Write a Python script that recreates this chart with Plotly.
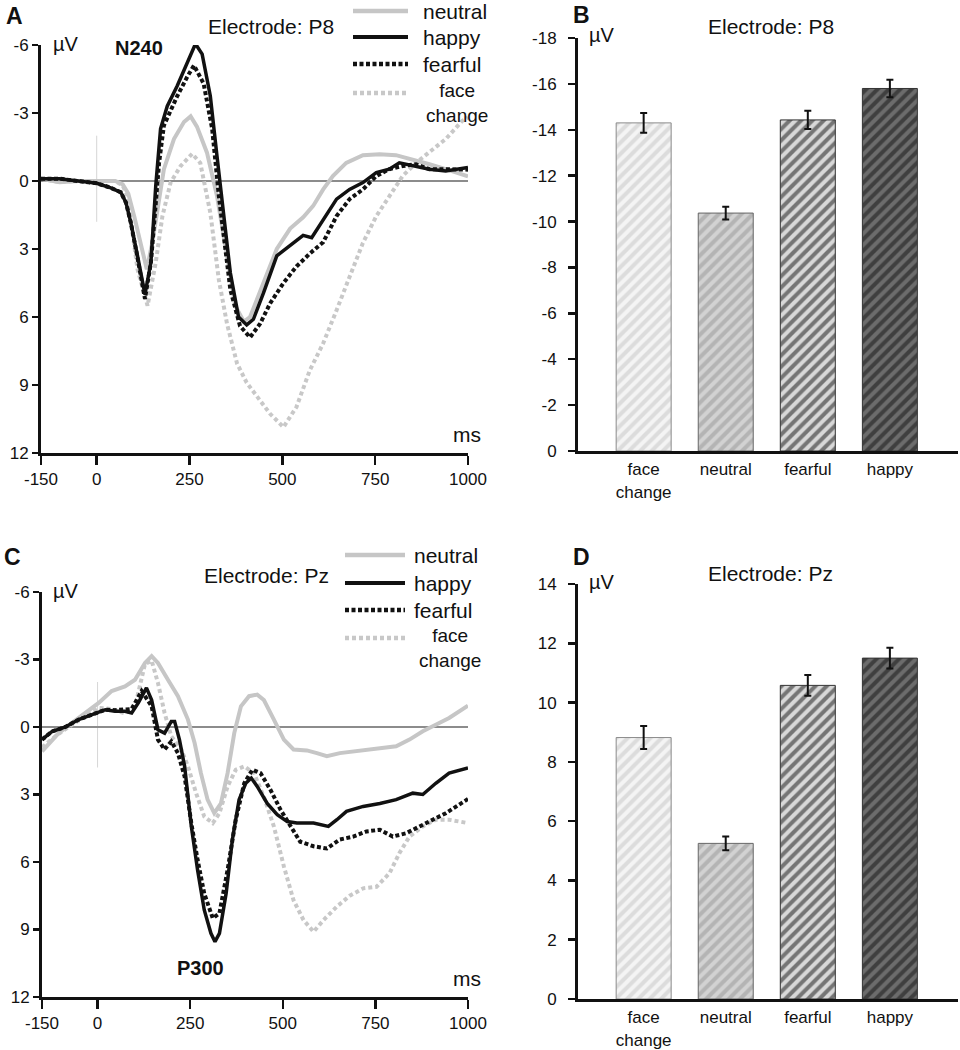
import plotly.graph_objects as go

# ---------------- data ----------------
series_names = ["neutral", "happy", "fearful", "face change"]

# Panel A (P8 waveforms)
a_neutral_t = [-150,-100,-50,0,50,70,85,101,119,135,150,168,181,208,235,253,270,297,324,351,373,396,413,449,485,521,556,583,610,636,672,717,762,806,851,896,940,1000]
a_neutral_v = [-0.1,0.05,0.0,0.0,0.0,0.15,0.55,1.55,2.9,3.9,2.7,0.66,-0.52,-1.85,-2.6,-2.85,-2.4,-1.25,0.66,3.3,5.5,6.2,6.0,4.5,3.0,2.1,1.6,1.1,0.37,-0.22,-0.8,-1.14,-1.18,-1.14,-0.96,-0.74,-0.52,-0.2]
a_happy_t = [-150,-100,-50,0,38,65,79,92,110,130,146,159,172,190,217,244,266,284,306,324,342,360,382,404,422,449,485,530,556,579,610,646,681,717,753,788,815,851,896,940,1000]
a_happy_v = [-0.1,-0.1,0.0,0.1,0.3,0.5,0.96,1.85,3.3,5.0,3.6,0.22,-2.3,-3.3,-4.2,-5.2,-6.05,-5.6,-3.75,-1.1,1.55,4.06,6.0,6.35,6.1,4.95,3.3,2.7,2.4,2.5,1.7,0.8,0.37,0.07,-0.37,-0.52,-0.8,-0.66,-0.52,-0.44,-0.6]
a_fearful_t = [-150,-100,-50,0,38,65,79,92,110,130,146,159,168,181,217,244,262,288,311,329,360,386,413,440,467,503,538,574,610,646,681,717,753,788,824,860,896,949,1000]
a_fearful_v = [-0.1,-0.1,0.0,0.1,0.3,0.5,0.96,1.85,3.4,5.2,3.6,0.96,-0.8,-2.45,-3.75,-4.6,-5.1,-4.3,-2.3,0.66,4.8,6.4,6.9,6.3,5.4,4.5,3.77,3.2,2.7,1.55,0.8,0.37,-0.22,-0.52,-0.66,-0.74,-0.52,-0.52,-0.5]
a_face_t = [-150,-100,-50,0,50,70,83,110,137,159,177,199,226,257,279,306,329,351,378,404,431,467,503,538,574,610,646,681,717,753,788,824,860,896,940,985,1000]
a_face_v = [-0.1,0.05,0.0,0.0,0.0,0.2,0.66,3.9,5.5,3.6,1.55,0.07,-0.66,-1.2,-0.8,1.4,4.36,6.3,8.05,8.9,9.5,10.27,10.86,9.97,8.35,7.16,5.7,4.2,2.73,1.55,0.66,-0.22,-0.8,-1.25,-1.85,-2.66,-2.8]

# Panel C (Pz waveforms)
c_neutral_t = [-150,-105,-69,-33,3,38,74,101,128,146,163,190,217,244,262,279,297,315,333,351,369,387,409,431,449,476,503,529,565,592,619,654,690,726,771,806,842,878,913,949,1000]
c_neutral_v = [1.08,0.27,-0.18,-0.62,-1.07,-1.6,-1.8,-2.1,-2.85,-3.15,-2.85,-2.1,-1.37,-0.33,0.71,2.05,3.23,3.83,3.4,2.05,0.27,-0.92,-1.37,-1.44,-1.2,-0.33,0.56,1.0,1.04,1.16,1.3,1.16,1.08,1.0,0.93,0.86,0.56,0.19,-0.1,-0.4,-0.95]
c_happy_t = [-150,-123,-87,-51,-15,21,47,74,92,110,132,146,163,181,199,208,221,235,253,270,288,306,317,329,347,364,382,400,415,431,458,485,512,538,583,623,646,672,717,762,806,851,878,913,949,1000]
c_happy_v = [0.56,0.2,0.0,-0.33,-0.55,-0.77,-0.7,-0.7,-0.62,-1.07,-1.74,-1.2,0.12,0.27,-0.25,-0.25,0.56,1.75,4.4,6.35,8.13,9.17,9.54,9.17,7.4,5.0,3.23,2.5,2.27,2.64,3.4,3.9,4.2,4.27,4.27,4.42,4.12,3.75,3.53,3.4,3.23,2.94,3.0,2.5,2.05,1.82]
c_fearful_t = [-150,-123,-87,-51,-15,21,47,74,92,119,146,163,181,199,217,235,253,270,288,311,329,351,373,396,418,440,467,494,521,547,583,619,654,690,726,762,797,833,869,904,940,1000]
c_fearful_v = [0.56,0.2,0.0,-0.33,-0.55,-0.77,-0.75,-0.8,-0.8,-1.6,-0.92,0.56,1.0,0.64,1.16,2.2,4.27,5.9,7.4,8.5,8.28,6.35,4.12,2.5,1.9,2.05,2.8,3.68,4.42,5.1,5.3,5.4,5.0,4.87,4.64,4.57,4.87,4.72,4.42,4.12,3.83,3.2]
c_face_t = [-150,-105,-69,-33,3,38,74,101,128,146,163,181,199,226,244,266,288,311,329,351,373,396,422,449,476,503,529,556,583,610,646,681,717,753,788,815,842,878,913,949,1000]
c_face_v = [0.9,0.3,-0.1,-0.5,-0.85,-0.8,-0.6,-0.9,-2.8,-2.95,-1.96,-0.62,0.41,1.0,1.75,2.94,3.98,4.27,3.83,2.64,1.9,1.75,2.05,3.1,4.42,6.2,7.7,8.58,9.1,8.58,7.98,7.5,7.17,7.1,6.5,5.6,4.87,4.42,4.12,4.12,4.27]

# Bar panels
bar_categories = ["face change", "neutral", "fearful", "happy"]
bar_ticktext = ["face<br>change", "neutral", "fearful", "happy"]
b_values = [-14.3, -10.37, -14.43, -15.8]
b_errors = [0.43, 0.28, 0.4, 0.38]
d_values = [8.82, 5.25, 10.58, 11.5]
d_errors = [0.39, 0.23, 0.35, 0.35]

wave_x_ticks = [-150, 0, 250, 500, 750, 1000]
wave_x_ticktext = ["-150", "0", "250", "500", "750", "1000"]
wave_y_ticks = [-6, -3, 0, 3, 6, 9, 12]
wave_y_ticktext = ["-6", "-3", "0", "3", "6", "9", "12"]
b_y_ticks = [0, -2, -4, -6, -8, -10, -12, -14, -16, -18]
b_y_ticktext = ["0", "-2", "-4", "-6", "-8", "-10", "-12", "-14", "-16", "-18"]
d_y_ticks = [0, 2, 4, 6, 8, 10, 12, 14]
d_y_ticktext = ["0", "2", "4", "6", "8", "10", "12", "14"]

# ---------------- styles ----------------
W, H = 960, 1050
FONT = "Liberation Sans, Arial, Helvetica, sans-serif"
line_styles = {
    "neutral": dict(color="#c6c6c6", width=4, dash="solid"),
    "happy": dict(color="#111111", width=3.5, dash="solid"),
    "fearful": dict(color="#111111", width=4, dash="4px,2.5px"),
    "face change": dict(color="#c8c8c8", width=4, dash="4px,3px"),
}
bar_styles = [
    dict(bg="#f4f4f4", fg="#c4c4c4", sol=0.5, outline="#8a8a8a"),
    dict(bg="#d2d2d2", fg="#969696", sol=0.5, outline="#666666"),
    dict(bg="#d8d8d8", fg="#111111", sol=0.5, outline="#333333"),
    dict(bg="#6c6c6c", fg="#111111", sol=0.5, outline="#333333"),
]


def px(x):
    return x / W


def py(y):
    return 1 - y / H


fig = go.Figure()

wave_sets = {
    "A": {"neutral": (a_neutral_t, a_neutral_v), "happy": (a_happy_t, a_happy_v),
          "fearful": (a_fearful_t, a_fearful_v), "face change": (a_face_t, a_face_v)},
    "C": {"neutral": (c_neutral_t, c_neutral_v), "happy": (c_happy_t, c_happy_v),
          "fearful": (c_fearful_t, c_fearful_v), "face change": (c_face_t, c_face_v)},
}
axis_map = {"A": ("x", "y"), "C": ("x3", "y3")}
for panel, sets in wave_sets.items():
    xa, ya = axis_map[panel]
    for name in ["face change", "neutral", "fearful", "happy"]:
        t, v = sets[name]
        fig.add_trace(go.Scatter(x=t, y=v, mode="lines", name=name, showlegend=False,
                                 line=dict(**line_styles[name]), xaxis=xa, yaxis=ya,
                                 hoverinfo="skip"))

for vals, errs, xa, ya in [(b_values, b_errors, "x2", "y2"), (d_values, d_errors, "x4", "y4")]:
    for i, cat in enumerate(bar_categories):
        st = bar_styles[i]
        fig.add_trace(go.Bar(
            x=[cat], y=[vals[i]], width=0.67, xaxis=xa, yaxis=ya, showlegend=False,
            marker=dict(color=st["bg"], line=dict(color=st["outline"], width=1),
                        pattern=dict(shape="/", fgcolor=st["fg"], bgcolor=st["bg"],
                                     size=8, solidity=st["sol"], fillmode="overlay")),
            error_y=dict(type="data", array=[errs[i]], visible=True, color="#111111",
                         thickness=2, width=3.5),
            hoverinfo="skip",
        ))

tickfont = dict(family=FONT, size=17, color="#111111")
common_axis = dict(showline=True, linecolor="#111111", linewidth=3, showgrid=False,
                   zeroline=False, tickfont=tickfont, tickcolor="#111111", automargin=False,
                   mirror=False, fixedrange=True)

wave_x = dict(common_axis, range=[-150, 1000], tickvals=wave_x_ticks, ticktext=wave_x_ticktext,
              ticks="outside", ticklen=9, tickwidth=2.5)
wave_y = dict(common_axis, range=[12, -6], tickvals=wave_y_ticks, ticktext=wave_y_ticktext,
              ticks="outside", ticklen=6, tickwidth=2.5, zeroline=True,
              zerolinecolor="#8c8c8c", zerolinewidth=1.5)
bar_x = dict(common_axis, type="category", range=[-0.8, 3.83], tickvals=bar_categories,
             ticktext=bar_ticktext, ticks="", ticklabelstandoff=1,
             tickfont=dict(family=FONT, size=17, color="#111111"))
bar_y = dict(common_axis, ticks="outside", ticklen=7, tickwidth=2.5, ticklabelstandoff=8)

fig.update_layout(
    template="none",
    width=W, height=H, autosize=False,
    margin=dict(l=0, r=0, t=0, b=0, pad=0),
    paper_bgcolor="white", plot_bgcolor="white",
    font=dict(family=FONT, color="#111111"),
    barmode="overlay", showlegend=False,
    xaxis=dict(wave_x, domain=[px(41), px(468)], anchor="y"),
    yaxis=dict(wave_y, domain=[py(453), py(45)], anchor="x"),
    xaxis3=dict(wave_x, domain=[px(42), px(468)], anchor="y3"),
    yaxis3=dict(wave_y, domain=[py(997), py(592)], anchor="x3"),
    xaxis2=dict(bar_x, domain=[px(578), px(958)], anchor="y2"),
    yaxis2=dict(bar_y, range=[0, -18], tickvals=b_y_ticks, ticktext=b_y_ticktext,
                domain=[py(451), py(38)], anchor="x2"),
    xaxis4=dict(bar_x, domain=[px(578), px(958)], anchor="y4"),
    yaxis4=dict(bar_y, range=[0, 14], tickvals=d_y_ticks, ticktext=d_y_ticktext,
                domain=[py(999), py(584)], anchor="x4"),
)

for xa, ya in [("x", "y"), ("x3", "y3")]:
    fig.add_shape(type="line", xref=xa, yref=ya, x0=0, x1=0, y0=-2.0, y1=1.8,
                  line=dict(color="#d6d6d6", width=1), layer="below")


def text(x, y, s, size, bold=False, xanchor="center"):
    fig.add_annotation(x=px(x), y=py(y), xref="paper", yref="paper", text=(f"<b>{s}</b>" if bold else s),
                       showarrow=False, xanchor=xanchor, yanchor="middle",
                       font=dict(family=FONT, size=size, color="#111111"))


text(14, 16, "A", 23, bold=True)
text(581, 15, "B", 23, bold=True)
text(12, 557, "C", 23, bold=True)
text(581, 557, "D", 23, bold=True)

text(271, 27, "Electrode: P8", 21)
text(771, 27, "Electrode: P8", 21)
text(266, 575, "Electrode: Pz", 21)
text(770, 573, "Electrode: Pz", 21)

for (x, y) in [(51, 44), (587, 35), (51, 591), (587, 582)]:
    text(x, y, "µV", 20, xanchor="left")

text(139, 48, "N240", 20, bold=True)
text(200, 968, "P300", 20, bold=True)
text(467, 434, "ms", 21)
text(467, 978, "ms", 21)

legend_layouts = [
    dict(x0=353, x1=408, lx=421, rows=[11, 37, 64, 93], face_c=457, face_y=103),
    dict(x0=345, x1=405, lx=412, rows=[555, 583, 610, 638], face_c=450, face_y=648),
]
for lg in legend_layouts:
    for name, ry in zip(series_names, lg["rows"]):
        st = line_styles[name]
        fig.add_shape(type="line", xref="paper", yref="paper", x0=px(lg["x0"]), x1=px(lg["x1"]),
                      y0=py(ry), y1=py(ry), line=dict(color=st["color"], width=st["width"] + 0.5, dash=st["dash"]))
        if name != "face change":
            text(lg["lx"], ry, name, 21, xanchor="left")
    text(lg["face_c"], lg["face_y"], name.replace(" ", "<br>"), 19)

fig.write_html("out.html", config={"displayModeBar": False, "staticPlot": True},
               post_script="document.body.style.margin='0';document.body.style.padding='0';")
